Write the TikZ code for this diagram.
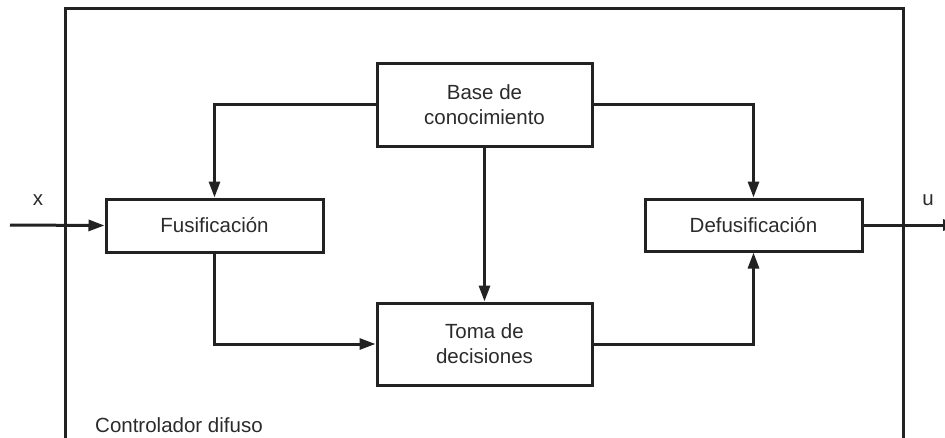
\documentclass[tikz,border=0pt]{standalone}
\usepackage{fontspec}
\setmainfont{Liberation Sans}
\usetikzlibrary{arrows.meta}
\definecolor{ink}{HTML}{222222}
\definecolor{txt}{HTML}{2B2B2B}
\begin{document}
\begin{tikzpicture}[x=1pt,y=-1pt,
  blk/.style={draw=ink,line width=3pt,fill=white,align=center,text=txt,
    font=\fontsize{20.5}{25}\selectfont,inner sep=0pt},
  conn/.style={draw=ink,line width=3pt,-{Triangle[length=16pt,width=11pt]}},
  lbl/.style={text=txt,font=\fontsize{20.5}{25}\selectfont,inner sep=0pt}]
\useasboundingbox (0,0) rectangle (945,437);
\draw[ink,line width=3pt] (65,445) -- (65,8) -- (903,8) -- (903,445);
\node[blk,minimum width=217pt,minimum height=53pt] (fus) at (214.5,225.5) {Fusificación};
\node[blk,minimum width=217pt,minimum height=52pt] (def) at (753.5,225) {Defusificación};
\node[blk,minimum width=215pt,minimum height=83pt] (base) at (484.5,104.5) {Base de\\conocimiento};
\node[blk,minimum width=215pt,minimum height=82pt] (toma) at (484.5,344) {Toma de\\decisiones};
\coordinate (in) at (10,225);
\coordinate (out) at (959,225);
\draw[conn] (in) -- (fus.west);
\draw[conn] (def.east) -- (out);
\draw[conn] (base.west) -| (fus.north);
\draw[conn] (base.east) -| (def.north);
\draw[conn] (base.south) -- (toma.north);
\draw[conn] (fus.south) |- (toma.west);
\draw[conn] (toma.east) -| (def.south);
\node[lbl] (xl) at (38,200) {x};
\node[lbl] (ul) at (928,200) {u};
\node[lbl,anchor=west] (cd) at (95,425) {Controlador difuso};
\end{tikzpicture}
\end{document}
